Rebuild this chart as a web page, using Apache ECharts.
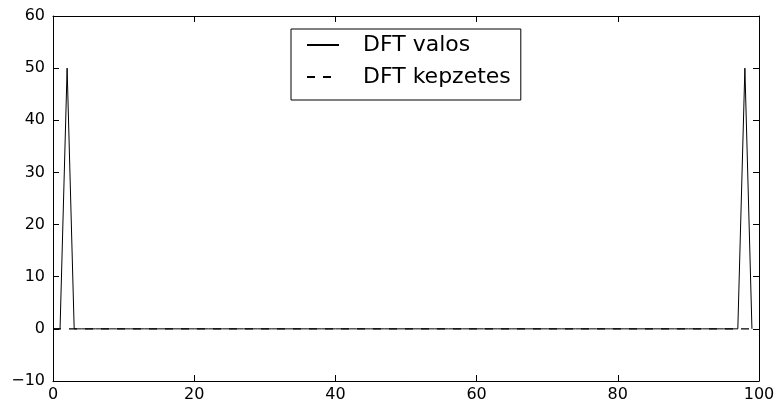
<!DOCTYPE html>
<html>
<head>
<meta charset="utf-8">
<script src="https://cdn.jsdelivr.net/npm/echarts@6/dist/echarts.min.js"></script>
<style>
html,body{margin:0;padding:0;background:#fff;}
#chart{width:778px;height:411px;}
</style>
</head>
<body>
<div id="chart"></div>
<script>
// sample index k
var sampleIndex = [0,1,2,3,4,5,6,7,8,9,10,11,12,13,14,15,16,17,18,19,20,21,22,23,24,25,26,27,28,29,30,31,32,33,34,35,36,37,38,39,40,41,42,43,44,45,46,47,48,49,50,51,52,53,54,55,56,57,58,59,60,61,62,63,64,65,66,67,68,69,70,71,72,73,74,75,76,77,78,79,80,81,82,83,84,85,86,87,88,89,90,91,92,93,94,95,96,97,98,99];
// real part of DFT
var dftReal = [0,0,50,0,0,0,0,0,0,0,0,0,0,0,0,0,0,0,0,0,0,0,0,0,0,0,0,0,0,0,0,0,0,0,0,0,0,0,0,0,0,0,0,0,0,0,0,0,0,0,0,0,0,0,0,0,0,0,0,0,0,0,0,0,0,0,0,0,0,0,0,0,0,0,0,0,0,0,0,0,0,0,0,0,0,0,0,0,0,0,0,0,0,0,0,0,0,0,50,0];
// imaginary part of DFT
var dftImag = [0,0,0,0,0,0,0,0,0,0,0,0,0,0,0,0,0,0,0,0,0,0,0,0,0,0,0,0,0,0,0,0,0,0,0,0,0,0,0,0,0,0,0,0,0,0,0,0,0,0,0,0,0,0,0,0,0,0,0,0,0,0,0,0,0,0,0,0,0,0,0,0,0,0,0,0,0,0,0,0,0,0,0,0,0,0,0,0,0,0,0,0,0,0,0,0,0,0,0,0];
var seriesNames = ['DFT valos', 'DFT kepzetes'];
var xTicks = [0, 20, 40, 60, 80, 100];
var yTicks = [-10, 0, 10, 20, 30, 40, 50, 60];

function pairs(ys){ return sampleIndex.map(function(x,i){ return [x, ys[i]]; }); }
function fmt(v){ return String(v).replace('-', '\u2212'); }

var chart = echarts.init(document.getElementById('chart'), null, {renderer:'canvas'});
var axisCommon = {
  axisLine:{show:true, onZero:false, lineStyle:{color:'#000', width:1}},
  axisTick:{show:true, inside:true, length:6, lineStyle:{color:'#000', width:1}},
  splitLine:{show:false}
};
var font = 'DejaVu Sans';
chart.setOption({
  animation:false,
  backgroundColor:'#fff',
  grid:{left:53, right:19, top:16, bottom:30, containLabel:false},
  xAxis:[
    Object.assign({type:'value', position:'bottom', min:xTicks[0], max:xTicks[xTicks.length-1], interval:20,
      axisLabel:{color:'#000', fontSize:16, fontFamily:font, margin:6, formatter:fmt}}, axisCommon),
    Object.assign({type:'value', position:'top', min:xTicks[0], max:xTicks[xTicks.length-1], interval:20,
      axisLabel:{show:false}}, axisCommon)
  ],
  yAxis:[
    Object.assign({type:'value', position:'left', min:yTicks[0], max:yTicks[yTicks.length-1], interval:10,
      axisLabel:{color:'#000', fontSize:16, fontFamily:font, margin:8, formatter:fmt}}, axisCommon),
    Object.assign({type:'value', position:'right', min:yTicks[0], max:yTicks[yTicks.length-1], interval:10,
      axisLabel:{show:false}}, axisCommon)
  ],
  legend:{
    orient:'vertical', left:291, top:29,
    padding:[5,10,12,15],
    itemWidth:32, itemHeight:14, itemGap:10,
    borderColor:'#000', borderWidth:1, borderRadius:0, backgroundColor:'#fff',
    itemStyle:{opacity:0},
    textStyle:{color:'#000', fontSize:22, fontFamily:font, lineHeight:22, padding:[0,0,0,19]},
    data:seriesNames
  },
  series:[
    {name:seriesNames[0], type:'line', data:pairs(dftReal), symbol:'none', showSymbol:false,
      lineStyle:{color:'#000', width:1, type:'solid'}, itemStyle:{color:'#000'}, z:2},
    {name:seriesNames[1], type:'line', data:pairs(dftImag), symbol:'none', showSymbol:false,
      lineStyle:{color:'#000', width:1.4, type:[8,8]}, itemStyle:{color:'#000'}, z:3}
  ]
});
</script>
</body>
</html>
